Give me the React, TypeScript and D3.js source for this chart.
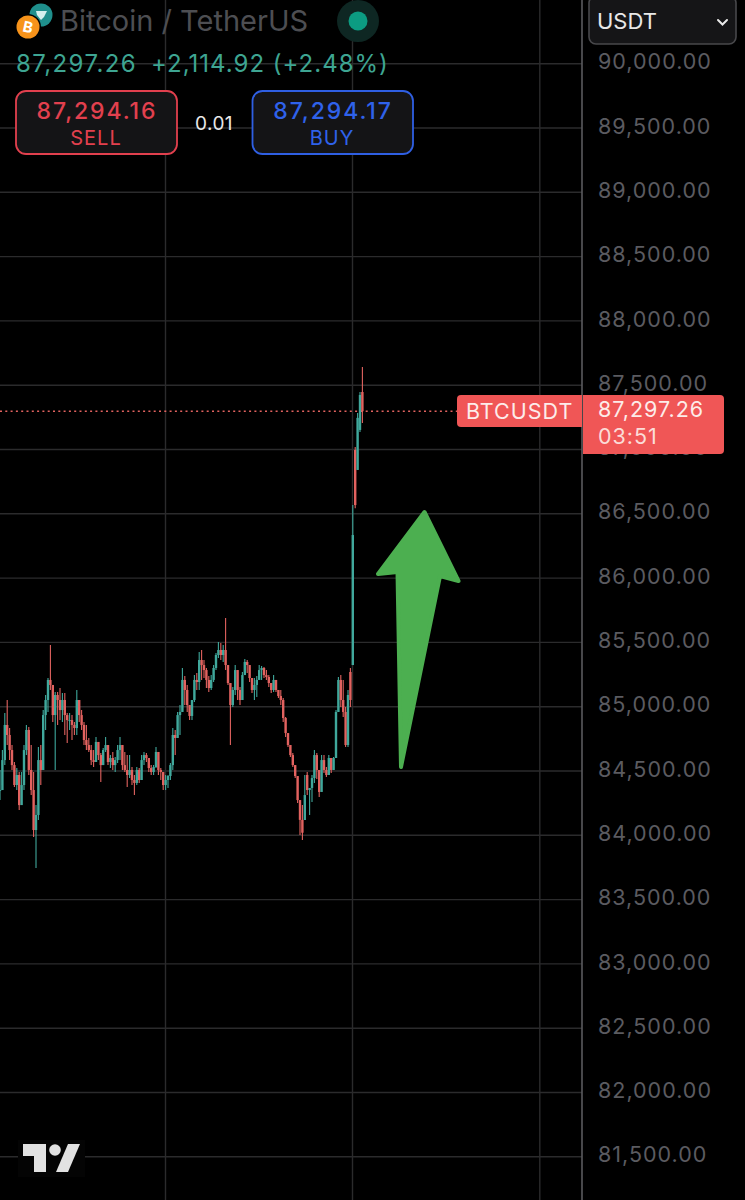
import React, { useEffect, useRef } from 'react';
import * as d3 from 'd3';

const WIDTH = 745;
const HEIGHT = 1200;

// price axis, top to bottom
const priceTicks = [90500, 90000, 89500, 89000, 88500, 88000, 87500, 87000, 86500, 86000, 85500, 85000, 84500, 84000, 83500, 83000, 82500, 82000, 81500];

const lastPrice = 87297.26;
const pairLabel = 'BTCUSDT';
const countdown = '03:51';

const closes = [
  84352, 84585, 84858, 84780, 84663, 84546, 84391, 84469, 84235, 84391, 84663, 84819, 84508, 84352, 84041, 84158,
  84585, 84508, 84935, 85052, 85208, 85169, 84935, 85091, 85052, 84974, 85052, 84935, 84896, 84896, 84858, 84834,
  85052, 84935, 84858, 84741, 84702, 84663, 84585, 84570, 84726, 84624, 84546, 84663, 84702, 84570, 84601, 84546,
  84585, 84663, 84702, 84546, 84508, 84469, 84508, 84430, 84407, 84508, 84430, 84585, 84624, 84601, 84523, 84492,
  84531, 84648, 84508, 84492, 84391, 84430, 84461, 84546, 84780, 84757, 84935, 84959, 85208, 85130, 85013, 84928,
  85052, 85208, 85192, 85363, 85324, 85285, 85208, 85145, 85208, 85301, 85402, 85441, 85402, 85441, 85324, 85184,
  85013, 85130, 85285, 85130, 85052, 85246, 85348, 85324, 85223, 85130, 85169, 85208, 85285, 85301, 85246, 85231,
  85184, 85130, 85208, 85130, 85083, 85052, 84912, 84795, 84702, 84624, 84546, 84461, 84274, 84120, 84020, 84313,
  84352, 84368, 84445, 84624, 84508, 84337, 84585, 84508, 84469, 84601, 84508, 84601, 84959, 85208, 85052, 84959,
  84702, 85091, 85052, 86335, 86568, 87246, 87424, lastPrice,
];

const highs = [
  84508, 84663, 84951, 85052, 84834, 84702, 84570, 84523, 84492, 84492, 84702, 84858, 84842, 84702, 84492, 84235,
  84687, 84702, 84974, 85091, 85223, 85480, 85169, 85114, 85114, 85145, 85106, 85106, 84951, 84951, 84935, 84881,
  85130, 85052, 84974, 84881, 84858, 84757, 84702, 84663, 84764, 84726, 84640, 84679, 84764, 84702, 84624, 84648,
  84609, 84702, 84764, 84702, 84648, 84624, 84624, 84531, 84469, 84531, 84523, 84624, 84648, 84640, 84601, 84546,
  84546, 84687, 84648, 84523, 84492, 84469, 84469, 84562, 84834, 84819, 84959, 85013, 85301, 85239, 85169, 85013,
  85052, 85246, 85262, 85425, 85441, 85363, 85301, 85239, 85246, 85324, 85417, 85503, 85495, 85480, 85690, 85324,
  85184, 85153, 85324, 85285, 85153, 85270, 85371, 85363, 85324, 85223, 85223, 85239, 85324, 85316, 85309, 85285,
  85246, 85184, 85246, 85208, 85130, 85130, 85068, 84920, 84795, 84702, 84640, 84546, 84461, 84274, 84235, 84469,
  84492, 84368, 84469, 84663, 84640, 84508, 84624, 84624, 84531, 84624, 84601, 84609, 84974, 85231, 85246, 85208,
  84998, 85130, 85301, 86568, 87019, 87284, 87447, 87642,
];

const lows = [
  84274, 84391, 84546, 84702, 84585, 84508, 84376, 84352, 84196, 84235, 84352, 84624, 84469, 84313, 83986, 83746,
  84119, 84391, 84508, 84819, 84959, 85130, 84881, 84508, 84858, 84896, 84881, 84780, 84718, 84819, 84741, 84780,
  84780, 84881, 84819, 84702, 84663, 84648, 84546, 84531, 84570, 84585, 84414, 84546, 84648, 84546, 84523, 84508,
  84492, 84562, 84585, 84508, 84492, 84376, 84445, 84391, 84313, 84391, 84407, 84430, 84546, 84570, 84492, 84469,
  84469, 84523, 84469, 84430, 84352, 84352, 84368, 84430, 84508, 84624, 84757, 84780, 84959, 85013, 84959, 84896,
  84896, 85036, 85130, 85130, 85208, 85223, 85145, 85114, 85130, 85192, 85285, 85379, 85363, 85347, 85285, 85169,
  84702, 84998, 85091, 85052, 85013, 85052, 85246, 85262, 85192, 85106, 85052, 85075, 85208, 85208, 85223, 85208,
  85153, 85106, 85114, 85114, 85068, 85013, 84881, 84764, 84687, 84609, 84531, 84445, 84251, 84002, 83963, 84119,
  84313, 84158, 84259, 84407, 84438, 84298, 84407, 84484, 84453, 84469, 84484, 84508, 84609, 84959, 84998, 84920,
  84687, 84687, 84998, 85324, 86544, 86841, 87137, 87207,
];

// candles that open away from the previous close
const openGaps: Record<number, number> = {
  127: 84119, 128: 84469, 146: 85270, 147: 85324, 148: 86996, 149: 86841, 150: 87152, 151: 87447,
};

const opens = closes.map((c, i) => openGaps[i] ?? (i > 0 ? closes[i - 1] : c));

const verticalGrid = [165.5, 352.5, 539.8];

const arrowShape: [number, number][] = [
  [424.5, 512], [458.5, 581], [440, 576], [401, 767], [397.5, 572], [378, 574],
];

const FONT = "Inter, 'Noto Sans', sans-serif";
const TEAL = '#3fa89c';
const RED = '#e2625f';

export default function App() {
  const svgRef = useRef<SVGSVGElement>(null);

  useEffect(() => {
    if (!svgRef.current) return;
    const svg = d3.select(svgRef.current);
    svg.selectAll('*').remove();

    const y = d3.scaleLinear().domain([90000, 81500]).range([63.7, 1156.8]);
    const x = d3.scaleLinear().domain([0, 151]).range([0, 362.4]);

    svg.append('rect').attr('width', WIDTH).attr('height', HEIGHT).attr('fill', '#000');

    // the screenshot is soft, candles need it too
    svg.append('defs').append('filter')
      .attr('id', 'soft')
      .attr('x', '-5%').attr('y', '-5%').attr('width', '110%').attr('height', '110%')
      .append('feGaussianBlur')
      .attr('stdDeviation', 0.45);

    // grid
    const grid = svg.append('g').attr('stroke', '#2b2b2c').attr('stroke-width', 1.4);
    grid.selectAll('line.h')
      .data(priceTicks)
      .join('line')
      .attr('class', 'h')
      .attr('x1', 0)
      .attr('x2', 582)
      .attr('y1', d => y(d))
      .attr('y2', d => y(d));
    grid.selectAll('line.v')
      .data(verticalGrid)
      .join('line')
      .attr('class', 'v')
      .attr('x1', d => d)
      .attr('x2', d => d)
      .attr('y1', 0)
      .attr('y2', HEIGHT);

    // axis labels
    const axis = d3.axisRight(y)
      .tickValues(priceTicks.slice(1))
      .tickSize(0)
      .tickPadding(0)
      .tickFormat(d => d3.format(',.2f')(d as number));
    const axisG = svg.append('g').attr('transform', 'translate(598,0)').call(axis);
    axisG.select('.domain').remove();
    axisG.selectAll('text')
      .attr('fill', '#5b5b60')
      .attr('font-family', FONT)
      .attr('font-size', 21.5)
      .attr('letter-spacing', 1)
      .attr('dy', '0.24em');

    svg.append('line')
      .attr('x1', 582).attr('x2', 582).attr('y1', 0).attr('y2', HEIGHT)
      .attr('stroke', '#5a5a5e').attr('stroke-width', 1.6);

    // current price line
    svg.append('line')
      .attr('x1', 0).attr('x2', 457)
      .attr('y1', y(lastPrice)).attr('y2', y(lastPrice))
      .attr('stroke', RED).attr('stroke-width', 1.5).attr('stroke-dasharray', '2 3.3');

    // candles
    const candles = svg.append('g')
      .attr('filter', 'url(#soft)')
      .selectAll('g')
      .data(closes.map((c, i) => ({ i, o: opens[i], h: highs[i], l: lows[i], c })))
      .join('g')
      .attr('stroke', d => (d.c >= d.o ? TEAL : RED))
      .attr('fill', d => (d.c >= d.o ? TEAL : RED));
    candles.append('line')
      .attr('x1', d => x(d.i)).attr('x2', d => x(d.i))
      .attr('y1', d => y(d.h)).attr('y2', d => y(d.l))
      .attr('stroke-width', 1.1);
    candles.append('rect')
      .attr('x', d => x(d.i) - 1.2)
      .attr('width', 2.4)
      .attr('y', d => y(Math.max(d.o, d.c)))
      .attr('height', d => Math.max(1, Math.abs(y(d.o) - y(d.c))))
      .attr('stroke', 'none');

    // arrow
    svg.append('path')
      .attr('d', d3.line()(arrowShape) + 'Z')
      .attr('fill', '#4caf50')
      .attr('stroke', '#4caf50')
      .attr('stroke-width', 4)
      .attr('stroke-linejoin', 'round');

    // last price tags
    svg.append('path')
      .attr('d', 'M582,395H461a4,4 0 0 0 -4,4V423a4,4 0 0 0 4,4H582Z')
      .attr('fill', '#f05656');
    svg.append('path')
      .attr('d', 'M583,395H720a4,4 0 0 1 4,4V450a4,4 0 0 1 -4,4H583Z')
      .attr('fill', '#f05656');
    const text = (s: string, tx: number, ty: number, size: number, fill: string, anchor = 'start', spacing = 0) =>
      svg.append('text')
        .attr('x', tx).attr('y', ty)
        .attr('font-family', FONT).attr('font-size', size)
        .attr('fill', fill).attr('text-anchor', anchor)
        .attr('letter-spacing', spacing)
        .text(s);
    text(pairLabel, 466, 419, 21.5, '#fdecea', 'start', 1);
    text(d3.format(',.2f')(lastPrice), 598, 417, 21.5, '#fdecea', 'start', 1);
    text(countdown, 598, 444, 21.5, '#fbdcd8', 'start', 1);

    // header
    svg.append('circle').attr('cx', 41).attr('cy', 15).attr('r', 11.5).attr('fill', '#1f8f8c');
    svg.append('path').attr('d', 'M36,11H47L44,17L41,20L37,15Z').attr('fill', '#d5f0ee');
    svg.append('circle').attr('cx', 28).attr('cy', 27).attr('r', 13).attr('fill', '#000');
    svg.append('circle').attr('cx', 28).attr('cy', 27).attr('r', 11.5).attr('fill', '#f7931a');
    text('B', 28, 32.5, 15, '#fff', 'middle').attr('font-weight', 700).attr('transform', 'rotate(12 28 27)');
    text('Bitcoin / TetherUS', 60, 31, 29, '#4d4e52');
    svg.append('circle').attr('cx', 358).attr('cy', 21).attr('r', 21).attr('fill', '#0e2723');
    svg.append('circle').attr('cx', 358).attr('cy', 21).attr('r', 9.5).attr('fill', '#0c9c82');
    text(d3.format(',.2f')(lastPrice), 16, 72, 24, '#3ea592', 'start', 1.4);
    text('+2,114.92 (+2.48%)', 151, 72, 24, '#3ea592', 'start', 1);

    // sell and buy buttons
    svg.append('rect').attr('x', 16).attr('y', 91).attr('width', 161).attr('height', 63).attr('rx', 10)
      .attr('fill', '#141416').attr('stroke', '#e2404e').attr('stroke-width', 1.8);
    svg.append('rect').attr('x', 252.5).attr('y', 91).attr('width', 160.5).attr('height', 63).attr('rx', 10)
      .attr('fill', '#141416').attr('stroke', '#2f5fe3').attr('stroke-width', 1.8);
    text('87,294.16', 97, 119, 23, '#e2404e', 'middle', 1.9).attr('font-weight', 500);
    text('SELL', 96, 145, 20, '#e2404e', 'middle', 1);
    text('87,294.17', 333, 119, 23, '#2f62ea', 'middle', 1.9).attr('font-weight', 500);
    text('BUY', 332, 145, 20, '#2f62ea', 'middle', 1);
    text('0.01', 214, 130, 19, '#e8e8e8', 'middle', 0.4);

    // currency select
    svg.append('rect').attr('x', 589).attr('y', -4).attr('width', 147).attr('height', 48).attr('rx', 7)
      .attr('fill', '#151517').attr('stroke', '#48484b').attr('stroke-width', 1.6);
    text('USDT', 597, 29, 22, '#e8e8e8');
    svg.append('path').attr('d', 'M718,20L722.5,24.5L727,20')
      .attr('fill', 'none').attr('stroke', '#e8e8e8').attr('stroke-width', 2).attr('stroke-linecap', 'round');

    // tradingview mark
    svg.append('rect').attr('x', 18).attr('y', 1140).attr('width', 67).attr('height', 37).attr('fill', '#040404');
    svg.append('path').attr('d', 'M23,1144H46V1172H34V1156H23Z').attr('fill', '#e2e2e2');
    svg.append('circle').attr('cx', 55).attr('cy', 1150).attr('r', 5.8).attr('fill', '#e2e2e2');
    svg.append('path').attr('d', 'M68,1144H80L68,1172H56Z').attr('fill', '#e2e2e2');
  }, []);

  return (
    <svg
      ref={svgRef}
      width={WIDTH}
      height={HEIGHT}
      viewBox={`0 0 ${WIDTH} ${HEIGHT}`}
      style={{ position: 'absolute', left: 0, top: 0, display: 'block' }}
    />
  );
}
